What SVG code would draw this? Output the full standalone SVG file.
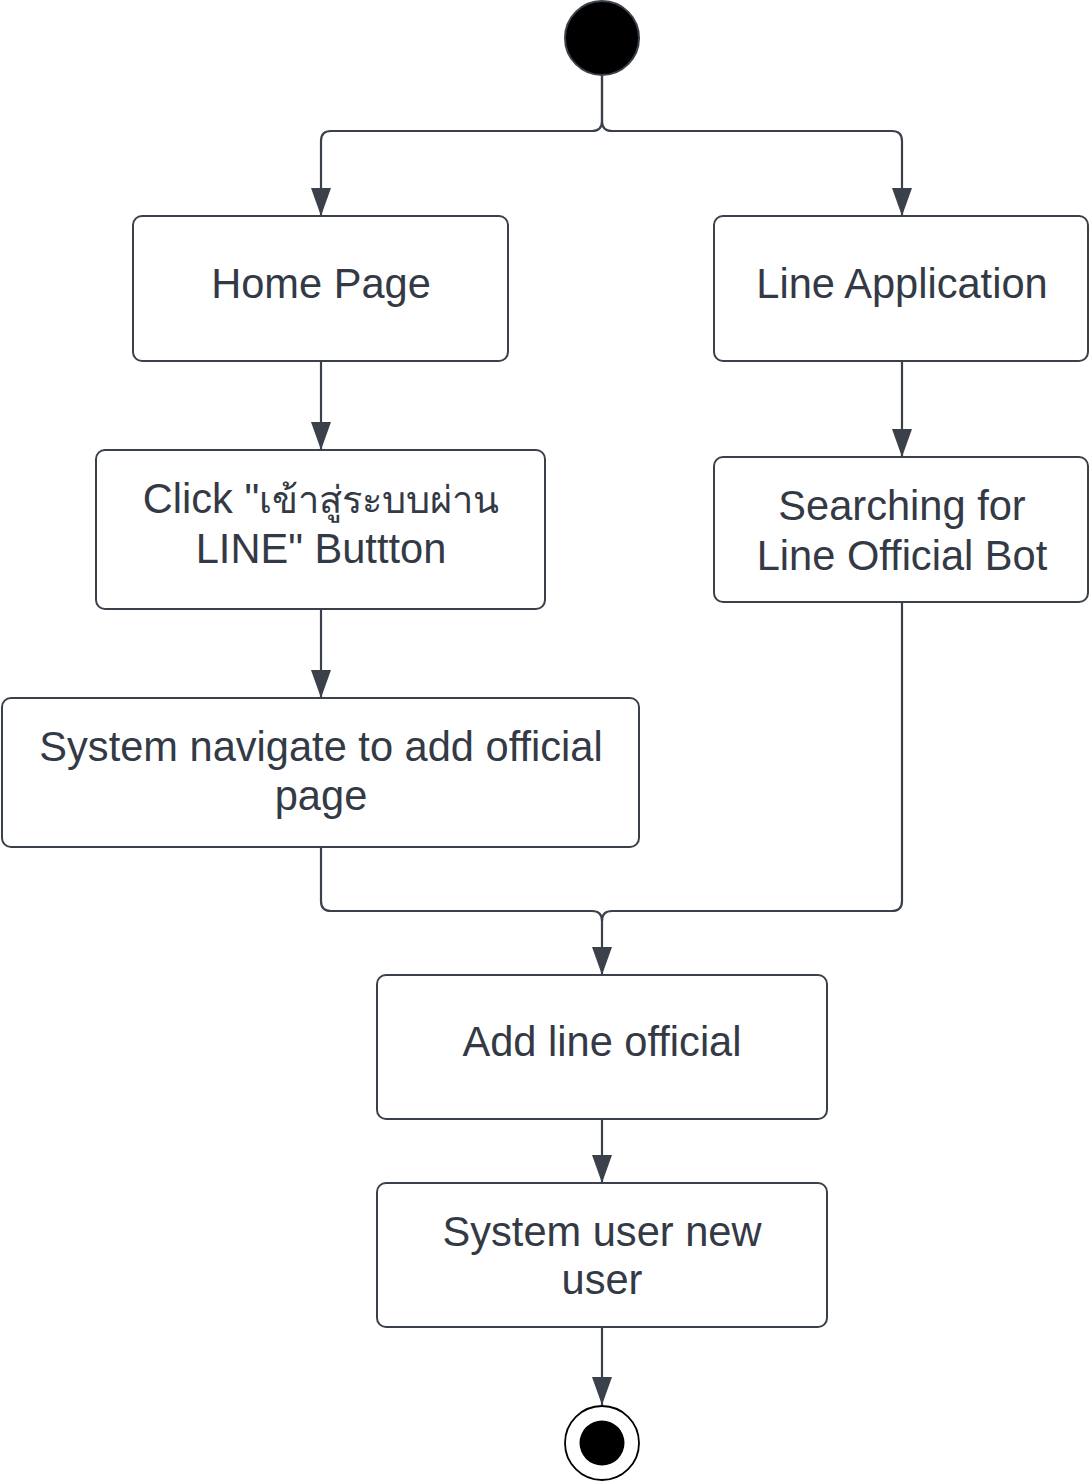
<svg xmlns="http://www.w3.org/2000/svg" width="1089" height="1483" viewBox="0 0 1089 1483">
<style>
.box{fill:#ffffff;stroke:#3a414a;stroke-width:2}
.lbl{font-family:"Liberation Sans","Noto Sans",sans-serif;font-size:41.6px;fill:#333a45;text-anchor:middle}
.con{fill:none;stroke:#3a414a;stroke-width:2.2}
</style>
<defs>
<marker id="arr" viewBox="0 0 28 20" refX="28" refY="10" markerWidth="28" markerHeight="20" markerUnits="userSpaceOnUse" orient="auto">
<path d="M0,0 L28,10 L0,20 z" fill="#3a414a"/>
</marker>
</defs>
<rect width="1089" height="1483" fill="#ffffff"/>
<g id="connectors">
<path class="con" marker-end="url(#arr)" d="M602,75 V121 Q602,131 592,131 H331 Q321,131 321,141 V216"/>
<path class="con" marker-end="url(#arr)" d="M602,75 V121 Q602,131 612,131 H892 Q902,131 902,141 V216"/>
<path class="con" marker-end="url(#arr)" d="M321,361 V450"/>
<path class="con" marker-end="url(#arr)" d="M902,361 V457"/>
<path class="con" marker-end="url(#arr)" d="M321,609 V698"/>
<path class="con" marker-end="url(#arr)" d="M321,847 V901 Q321,911 331,911 H592 Q602,911 602,921 V975"/>
<path class="con" d="M902,602 V901 Q902,911 892,911 H612 Q602,911 602,921"/>
<path class="con" marker-end="url(#arr)" d="M602,1119 V1183"/>
<path class="con" marker-end="url(#arr)" d="M602,1327 V1405"/>
</g>
<g id="start">
<ellipse cx="602" cy="38" rx="37" ry="37" fill="#000000" stroke="#3a414a" stroke-width="2"/>
</g>
<g id="home">
<rect class="box" x="133" y="216" width="375" height="145" rx="9"/>
<text class="lbl" x="321" y="298">Home Page</text>
</g>
<g id="lineapp">
<rect class="box" x="714" y="216" width="374" height="145" rx="9"/>
<text class="lbl" x="902" y="298">Line Application</text>
</g>
<g id="click">
<rect class="box" x="96" y="450" width="449" height="159" rx="9"/>
<text class="lbl" x="321" y="513">Click "<tspan font-size="38">เข้าสู่ระบบผ่าน</tspan></text>
<text class="lbl" x="321" y="563">LINE" Buttton</text>
</g>
<g id="searching">
<rect class="box" x="714" y="457" width="374" height="145" rx="9"/>
<text class="lbl" x="902" y="520">Searching for</text>
<text class="lbl" x="902" y="570">Line Official Bot</text>
</g>
<g id="navigate">
<rect class="box" x="2" y="698" width="637" height="149" rx="9"/>
<text class="lbl" x="321" y="761">System navigate to add official</text>
<text class="lbl" x="321" y="810">page</text>
</g>
<g id="addline">
<rect class="box" x="377" y="975" width="450" height="144" rx="9"/>
<text class="lbl" x="602" y="1056">Add line official</text>
</g>
<g id="sysuser">
<rect class="box" x="377" y="1183" width="450" height="144" rx="9"/>
<text class="lbl" x="602" y="1246">System user new</text>
<text class="lbl" x="602" y="1294">user</text>
</g>
<g id="end">
<circle cx="602" cy="1443" r="37" fill="#ffffff" stroke="#000000" stroke-width="1.8"/>
<circle cx="602" cy="1443" r="22.5" fill="#000000"/>
</g>
</svg>
